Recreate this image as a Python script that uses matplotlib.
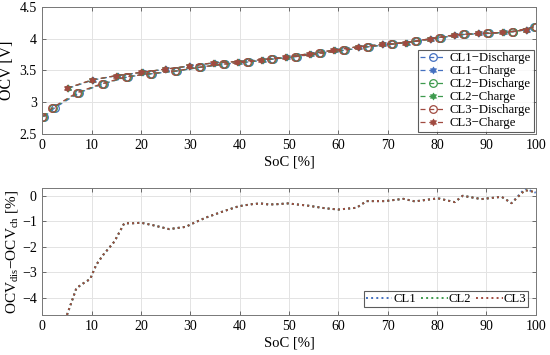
import numpy as np
import matplotlib
matplotlib.use('Agg')
import matplotlib.pyplot as plt
from matplotlib.path import Path

plt.rcParams['font.family'] = ['Liberation Serif', 'DejaVu Serif']
plt.rcParams['mathtext.fontset'] = 'custom'
plt.rcParams['mathtext.rm'] = 'Liberation Serif'
plt.rcParams['font.size'] = 10

# top panel: OCV points (SoC %, V)
soc_dis_cl1 = [0.4, 2.5, 7.5, 12.4, 17.4, 22.3, 27.2, 32.1, 37.0, 41.9, 46.8, 51.6, 56.5, 61.4, 66.2, 71.1, 76.0, 80.9, 85.7, 90.6, 95.5, 99.6]
soc_dis_cl2 = [0.2, 2.2, 7.2, 12.2, 17.2, 22.1, 27.0, 31.9, 36.8, 41.7, 46.6, 51.4, 56.3, 61.2, 66.0, 70.9, 75.8, 80.7, 85.5, 90.4, 95.3, 99.8]
soc_dis_cl3 = [0.0, 2.0, 7.0, 12.0, 17.0, 21.9, 26.8, 31.7, 36.6, 41.5, 46.4, 51.2, 56.1, 61.0, 65.8, 70.7, 75.6, 80.5, 85.3, 90.2, 95.1, 100.0]
ocv_dis = [2.77, 2.91, 3.15, 3.29, 3.40, 3.45, 3.49, 3.55, 3.60, 3.635, 3.68, 3.72, 3.77, 3.82, 3.875, 3.915, 3.96, 4.02, 4.07, 4.085, 4.11, 4.19]

soc_ch_cl1 = [5.3, 10.3, 15.3, 20.3, 25.1, 30.0, 34.9, 39.8, 44.7, 49.5, 54.4, 59.3, 64.2, 69.1, 73.9, 78.8, 83.7, 88.6, 93.5, 98.3]
soc_ch_cl2 = [5.1, 10.1, 15.1, 20.1, 24.9, 29.8, 34.7, 39.6, 44.5, 49.3, 54.2, 59.1, 64.0, 68.9, 73.7, 78.6, 83.5, 88.4, 93.3, 98.1]
soc_ch_cl3 = [5.0, 10.0, 15.0, 20.0, 24.8, 29.7, 34.6, 39.5, 44.4, 49.2, 54.1, 59.0, 63.9, 68.8, 73.6, 78.5, 83.4, 88.3, 93.2, 98.0]
ocv_ch = [3.22, 3.35, 3.42, 3.47, 3.52, 3.57, 3.62, 3.64, 3.67, 3.71, 3.765, 3.82, 3.875, 3.91, 3.94, 4.00, 4.06, 4.085, 4.10, 4.14]

# bottom panel: OCV difference (%)
soc_diff = [5.0, 6.9, 8.3, 9.7, 10.9, 12.3, 14.6, 16.6, 18.3, 20.0, 22.3, 25.7, 29.1, 30.1, 33.1, 36.4, 39.8, 42.5, 44.2, 45.8,
            47.2, 49.8, 53.9, 57.3, 60.0, 63.7, 65.7, 69.4, 73.2, 75.5, 80.2, 83.6, 85.2, 89.0, 93.1, 95.1, 97.8, 99.5, 100.0]
diff_cl1 = [-4.68, -3.63, -3.44, -3.27, -2.72, -2.33, -1.80, -1.08, -1.08, -1.06, -1.15, -1.31, -1.22, -1.12, -0.86, -0.63, -0.41, -0.33, -0.30, -0.34,
            -0.335, -0.30, -0.39, -0.49, -0.54, -0.47, -0.21, -0.21, -0.12, -0.22, -0.10, -0.25, 0.0, -0.13, -0.04, -0.29, 0.28, 0.16, 0.12]
diff_cl2 = [-4.68, -3.63, -3.44, -3.27, -2.72, -2.33, -1.80, -1.08, -1.08, -1.06, -1.15, -1.31, -1.22, -1.12, -0.86, -0.63, -0.41, -0.33, -0.30, -0.34,
            -0.335, -0.30, -0.39, -0.49, -0.54, -0.47, -0.21, -0.21, -0.12, -0.22, -0.10, -0.25, 0.0, -0.13, -0.04, -0.29, 0.22, 0.16, 0.12]
diff_cl3 = [-4.68, -3.63, -3.44, -3.27, -2.72, -2.33, -1.80, -1.08, -1.08, -1.06, -1.15, -1.31, -1.22, -1.12, -0.86, -0.63, -0.41, -0.33, -0.30, -0.34,
            -0.335, -0.30, -0.39, -0.49, -0.54, -0.47, -0.21, -0.21, -0.12, -0.22, -0.10, -0.25, 0.0, -0.13, -0.04, -0.29, 0.22, 0.16, 0.12]

colors = ['#4470C0', '#3E9A4E', '#A04A40']

# hexagram marker like MATLAB's 'h'
ang = np.deg2rad(np.arange(12) * 30 + 90)
rad = np.where(np.arange(12) % 2 == 0, 1.0, 1 / np.sqrt(3))
verts = np.column_stack([rad * np.cos(ang), rad * np.sin(ang)])
hexagram = Path(np.vstack([verts, verts[:1]]), closed=True)

fig = plt.figure(figsize=(5.5, 3.55), dpi=100)
ax1 = fig.add_axes([0.077, 0.623, 0.897, 0.357])
ax2 = fig.add_axes([0.077, 0.113, 0.897, 0.357])

dis_socs = [soc_dis_cl1, soc_dis_cl2, soc_dis_cl3]
ch_socs = [soc_ch_cl1, soc_ch_cl2, soc_ch_cl3]
for i in range(3):
    ax1.plot(dis_socs[i], ocv_dis, color=colors[i], lw=0.9, ls=(0, (4, 3)), marker='o',
             mfc='none', mec=colors[i], ms=5.5, mew=0.9, label='CL%d\u2212Discharge' % (i + 1))
    ax1.plot(ch_socs[i], ocv_ch, color=colors[i], lw=0.9, ls=(0, (4, 3)), marker=hexagram,
             mfc=colors[i], mec=colors[i], ms=5, mew=0.5, label='CL%d\u2212Charge' % (i + 1))

ax1.set_xlim(0, 100)
ax1.set_ylim(2.5, 4.5)
ax1.set_yticks([2.5, 3, 3.5, 4, 4.5])
ax1.set_yticklabels(['2.5', '3', '3.5', '4', '4.5'])
ax1.set_xlabel('SoC [%]', labelpad=2, fontsize=10.5)
ax1.set_ylabel('OCV [V]', labelpad=3, fontsize=11.5)
leg1 = ax1.legend(loc='lower right', fontsize=9.2, handlelength=2.0, labelspacing=0.08,
                  borderpad=0.2, handletextpad=0.3, fancybox=False, edgecolor='#333333',
                  borderaxespad=0.15)
leg1.get_frame().set_linewidth(0.8)

diffs = [diff_cl1, diff_cl2, diff_cl3]
for i in range(3):
    ax2.plot(soc_diff, diffs[i], ':', color=colors[i], lw=1.4, label='CL%d' % (i + 1))

ax2.set_xlim(0, 100)
ax2.set_ylim(-4.68, 0.3)
ax2.set_yticks([-4, -3, -2, -1, 0])
ax2.set_xlabel('SoC [%]', labelpad=2, fontsize=10.5)
ax2.set_ylabel(r'OCV$_{\mathrm{dis}}$$-$OCV$_{\mathrm{ch}}$ [%]', labelpad=1, fontsize=11)
leg2 = ax2.legend(loc='lower right', ncol=3, fontsize=9.2, handlelength=2.1, columnspacing=0.4,
                  borderpad=0.15, handletextpad=0.05, fancybox=False, edgecolor='#333333',
                  borderaxespad=0.6)
leg2.get_frame().set_linewidth(0.8)

for ax in (ax1, ax2):
    ax.set_xticks(range(0, 101, 10))
    ax.grid(True, color='#E3E3E3', lw=0.7)
    ax.set_axisbelow(True)
    ax.tick_params(direction='in', top=True, right=True, length=3, width=0.6,
                   color='#555555', labelsize=10, pad=4)
    for s in ax.spines.values():
        s.set_color('#777777')
        s.set_linewidth(0.7)

fig.savefig('out.png', dpi=100)
